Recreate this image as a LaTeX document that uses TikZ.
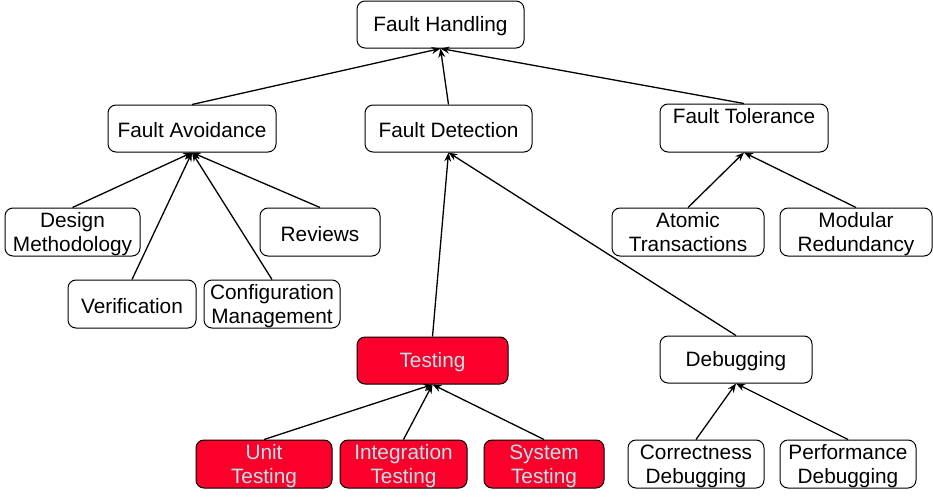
\documentclass[tikz,border=0pt]{standalone}
\usepackage{fontspec}
\setmainfont{Liberation Sans}
\usetikzlibrary{arrows.meta}
\definecolor{boxred}{RGB}{250,0,42}
\definecolor{lighttext}{RGB}{185,228,232}
\newcommand\twoline[2]{\raisebox{-2.6pt}[\height][\depth]{\begin{tabular}{@{}c@{}}#1\\#2\end{tabular}}}
\begin{document}
\begin{tikzpicture}[x=1pt,y=-1pt,
  box/.style={draw=black,line width=1pt,rounded corners=8pt,fill=white,inner sep=0pt,
    font=\fontsize{20.8pt}{24pt}\selectfont,minimum width=#1,minimum height=48pt,
    execute at begin node={\rule{0pt}{19pt}}},
  box/.default=136pt,
  twobox/.style={box=#1,execute at begin node={}},
  twobox/.default=136pt,
  redbox/.style={box=#1,fill=boxred,text=lighttext},
  redbox/.default=136pt,
  redtwobox/.style={twobox=#1,fill=boxred,text=lighttext},
  redtwobox/.default=136pt,
  conn/.style={line width=1.3pt,-{Stealth[length=9pt,width=7pt]}}]
\useasboundingbox (0,0) rectangle (933,501);
\node[box=167pt,minimum height=47pt] (fh) at (440.5,24.5) {Fault Handling};
\node[box=168pt,minimum height=47pt] (fa) at (192,128.5) {Fault Avoidance};
\node[box=167pt,minimum height=47pt] (fd) at (448.5,128.5) {Fault Detection};
\node[twobox=168pt] (ft) at (744,128) {\twoline{Fault Tolerance}{\mbox{}}};
\node[twobox=135pt] (dm) at (72.5,232) {\twoline{Design}{Methodology}};
\node[box=120pt] (rv) at (320,232) {Reviews};
\node[box=128pt] (vf) at (132,304) {Verification};
\node[twobox=136pt] (cm) at (272,304) {\twoline{Configuration}{Management}};
\node[twobox=152pt] (at) at (688,232) {\twoline{Atomic}{Transactions}};
\node[twobox=152pt] (mr) at (856,232) {\twoline{Modular}{Redundancy}};
\node[redbox=151pt,minimum height=47pt] (ts) at (432.5,360.5) {Testing};
\node[box=152pt,minimum height=47pt] (db) at (736,359.5) {Debugging};
\node[redtwobox=136pt] (ut) at (264,464) {\twoline{Unit}{Testing}};
\node[redtwobox=127pt] (it) at (403.5,464) {\twoline{Integration}{Testing}};
\node[redtwobox=120pt] (st) at (544,464) {\twoline{System}{Testing}};
\node[twobox=136pt] (cd) at (696,464) {\twoline{Correctness}{Debugging}};
\node[twobox=136pt] (pd) at (848,464) {\twoline{Performance}{Debugging}};
\draw[conn] (fa.north) -- (fh.south);
\draw[conn] (fd.north) -- (fh.south);
\draw[conn] (ft.north) -- (fh.south);
\draw[conn] (dm.north) -- (fa.south);
\draw[conn] (rv.north) -- (fa.south);
\draw[conn] (vf.north) -- (fa.south);
\draw[conn] (cm.north) -- (fa.south);
\draw[conn] (at.north) -- (ft.south);
\draw[conn] (mr.north) -- (ft.south);
\draw[conn] (ts.north) -- (fd.south);
\draw[conn] (db.north) -- (fd.south);
\draw[conn] (ut.north) -- (ts.south);
\draw[conn] (it.north) -- (ts.south);
\draw[conn] (st.north) -- (ts.south);
\draw[conn] (cd.north) -- (db.south);
\draw[conn] (pd.north) -- (db.south);
\end{tikzpicture}
\end{document}
